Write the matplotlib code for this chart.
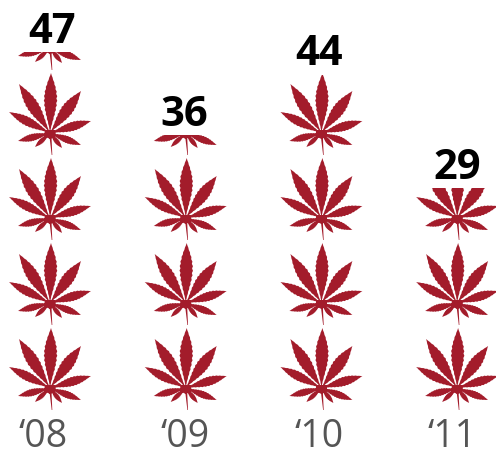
import numpy as np
import matplotlib
matplotlib.use("Agg")
import matplotlib.pyplot as plt
from matplotlib.path import Path
from matplotlib.patches import PathPatch, Rectangle
from matplotlib.transforms import Affine2D, ScaledTranslation

years = ["‘08", "‘09", "‘10", "‘11"]
values = [47, 36, 44, 29]

RED = "#A31C2B"
W, H = 496, 453
PX_X = 135.7      # pixels per category
PX_Y = 7.55       # pixels per value unit
BASE = 407        # pixel row of value 0
UNIT = 85 / PX_Y  # value covered by a leaf
FIRST = 19 / PX_Y # centre of first leaf above 0
YEAR_SHIFT = [-6.5, -1, -2, -5.5]   # px nudges of the year labels
VALUE_SHIFT = [2, -1, -2, 0]        # px nudges of the value labels

# leaflet shape: tip offset (px from leaf centre) and width
LEAFLETS = [((1, 60), 13.5), ((31, 42), 12.5), ((-31, 49), 12.5),
            ((41, 12), 9.5), ((-41, 21), 9.5), ((31, -12), 7.5),
            ((-32, -8), 7.5), ((12, -15), 5), ((-15, -14), 5)]


def leaflet(tip, width, teeth=13):
    tip = np.array(tip, float)
    L = np.hypot(*tip)
    u = tip / L
    n = np.array([-u[1], u[0]])
    t = np.linspace(0, 1, teeth * 2 + 1)
    prof = width / 2 * np.sin(np.pi * t ** 1.2) ** 1.1
    prof = prof * np.where(np.arange(t.size) % 2 == 0, 1.0, 0.86)
    a = np.outer(t * L, u) + np.outer(prof, n)
    b = np.outer(t * L, u) - np.outer(prof, n)
    return np.vstack([a, b[::-1]])


def leaf_path():
    polys = [leaflet(t, w) for t, w in LEAFLETS]
    polys.append(np.array([[-1.2, 2], [1.2, 2], [2.3, -22], [1.7, -22]]))
    polys.append(np.array([[-5, 3], [5, 3], [6, -3], [0, -6], [-6, -3]]))
    return Path.make_compound_path(*[Path(np.vstack([p, p[:1]]), closed=True) for p in polys])


LEAF = leaf_path()

fig = plt.figure(figsize=(W / 100, H / 100), dpi=100)
ax = fig.add_axes([0, (H - BASE) / H, 1, BASE / H])
ax.set_xlim(-50 / PX_X, (W - 50) / PX_X)
ax.set_ylim(0, BASE / PX_Y)
for s in ax.spines.values():
    s.set_visible(False)
ax.yaxis.set_visible(False)
ax.patch.set_visible(False)
ax.set_xticks(range(len(years)), years, family="Open Sans", fontsize=27, color="#555555")
ax.tick_params(axis="x", length=0, pad=8)
for lab, dx in zip(ax.get_xticklabels(), YEAR_SHIFT):
    lab.set_transform(lab.get_transform() + ScaledTranslation(dx / 100, 0, fig.dpi_scale_trans))

for i, v in enumerate(values):
    clip = Rectangle((i - 0.5, -10), 1, v + 10, transform=ax.transData)
    k = 0
    while FIRST + k * UNIT - 22 / PX_Y < v:
        tf = Affine2D().scale(1 / PX_X, 1 / PX_Y).translate(i, FIRST + k * UNIT) + ax.transData
        p = PathPatch(LEAF, facecolor=RED, edgecolor="none", transform=tf, lw=0)
        ax.add_patch(p)
        p.set_clip_path(clip)
        k += 1
    ax.annotate(str(v), (i, v), xytext=(VALUE_SHIFT[i] * 0.72, -0.5), textcoords="offset points",
                ha="center", va="bottom", family="Open Sans", fontweight="bold",
                fontsize=30, color="black")

fig.savefig("out.png", dpi=100)
